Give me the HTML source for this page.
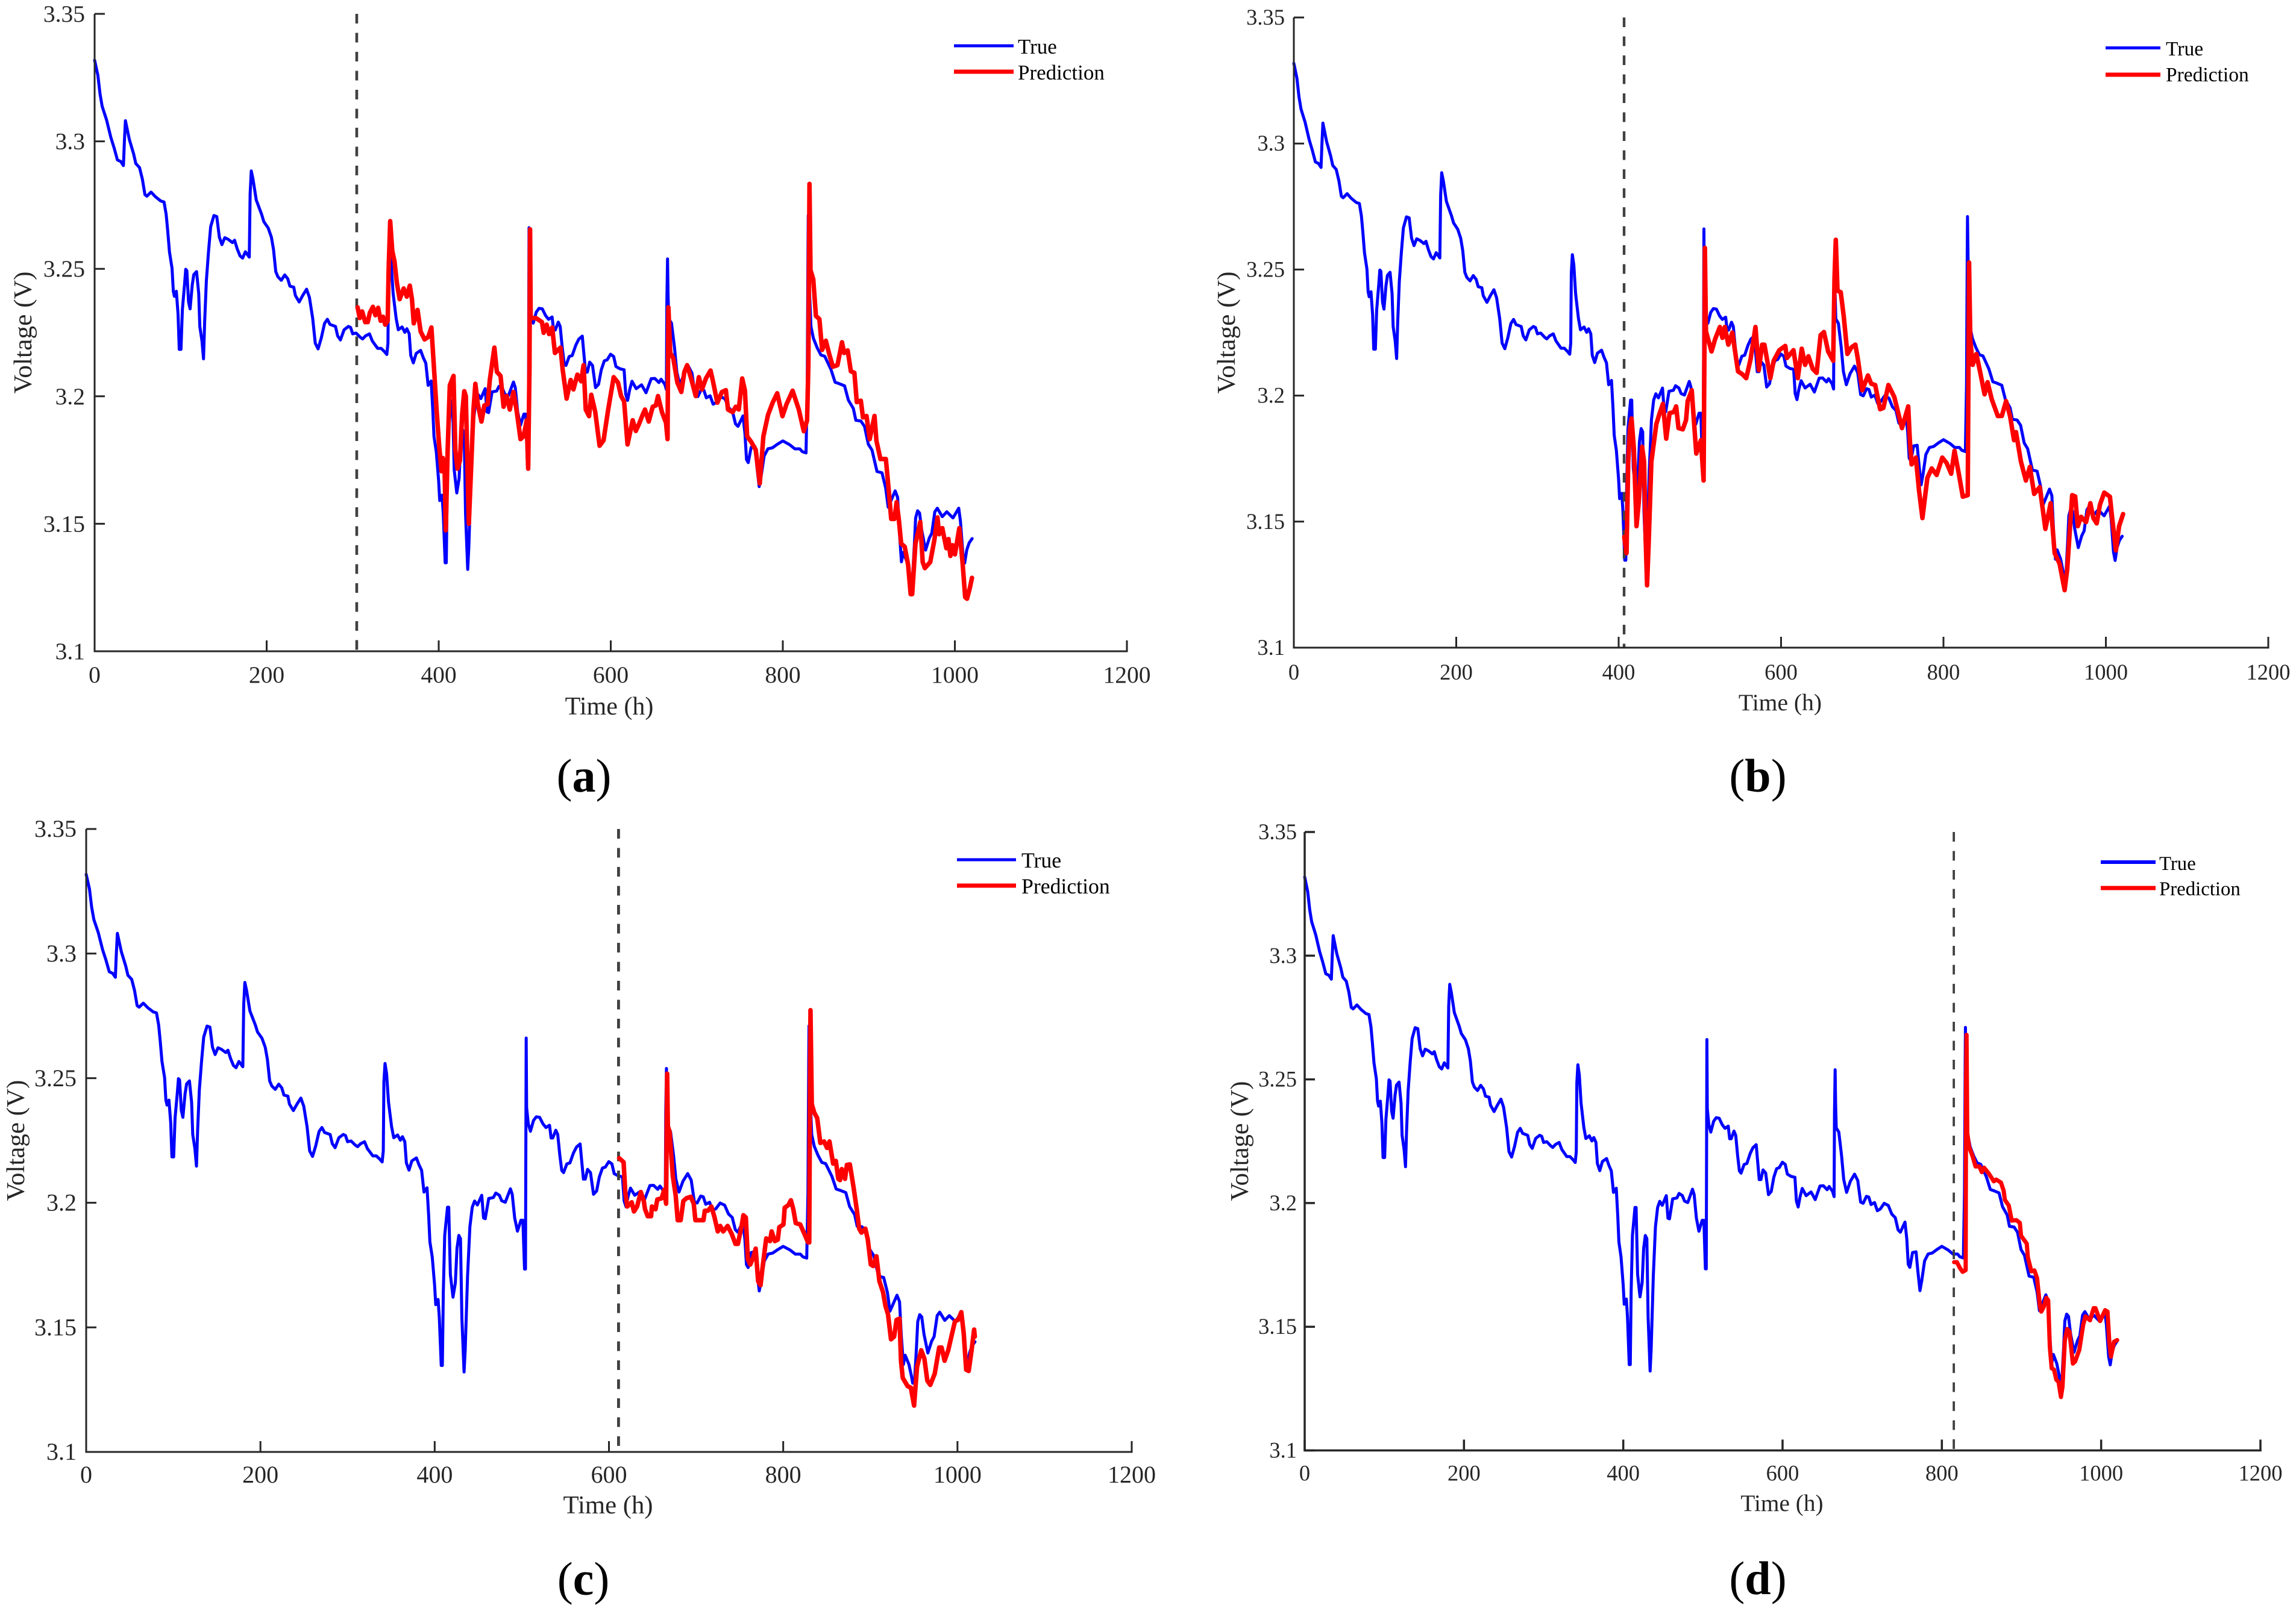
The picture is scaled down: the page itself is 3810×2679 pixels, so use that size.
<!DOCTYPE html>
<html lang="en">
<head>
<meta charset="utf-8">
<title>Voltage prediction comparison</title>
<style>
html,body{margin:0;padding:0;background:#fff;}
svg{display:block;}
text{font-family:"Liberation Serif","Times New Roman",serif;}
.ttl{fill:#262626;}
.leg{fill:#000;}
.cap{fill:#000;font-size:78px;}
.cap .l{font-weight:bold;}
</style>
</head>
<body>
<svg id="figure" xmlns="http://www.w3.org/2000/svg" width="3810" height="2679" viewBox="0 0 3810 2679">
<rect x="0" y="0" width="3810" height="2679" fill="#ffffff"/>

<g id="panel-a"></g>
<g id="panel-b"></g>
<g id="panel-c"></g>
<g id="panel-d"></g>

<g>
<text class="ttl" x="1011" y="1186" font-size="42" text-anchor="middle">Time (h)</text>
<text class="ttl" transform="translate(52,552) rotate(-90)" font-size="42" text-anchor="middle" textLength="203" lengthAdjust="spacingAndGlyphs">Voltage (V)</text>
<line x1="1583" x2="1682" y1="76" y2="76" stroke="#0000ff" stroke-width="5"/>
<line x1="1583" x2="1682" y1="119" y2="119" stroke="#ff0000" stroke-width="7"/>
<text class="leg" x="1689" y="89" font-size="35">True</text>
<text class="leg" x="1689" y="132" font-size="35">Prediction</text>
<text class="cap" x="969" y="1314" text-anchor="middle">(<tspan class="l">a</tspan>)</text>
</g>

<g>
<text class="ttl" x="2954" y="1179" font-size="39.6" text-anchor="middle">Time (h)</text>
<text class="ttl" transform="translate(2049,552) rotate(-90)" font-size="42" text-anchor="middle" textLength="203" lengthAdjust="spacingAndGlyphs">Voltage (V)</text>
<line x1="3494" x2="3585" y1="79.5" y2="79.5" stroke="#0000ff" stroke-width="5"/>
<line x1="3494" x2="3585" y1="124" y2="124" stroke="#ff0000" stroke-width="7"/>
<text class="leg" x="3594" y="92" font-size="33.5">True</text>
<text class="leg" x="3594" y="135" font-size="33.5">Prediction</text>
<text class="cap" x="2917" y="1314" text-anchor="middle">(<tspan class="l">b</tspan>)</text>
</g>

<g>
<text class="ttl" x="1009" y="2512" font-size="42.7" text-anchor="middle">Time (h)</text>
<text class="ttl" transform="translate(40,1893) rotate(-90)" font-size="42" text-anchor="middle" textLength="201" lengthAdjust="spacingAndGlyphs">Voltage (V)</text>
<line x1="1588" x2="1686" y1="1427" y2="1427" stroke="#0000ff" stroke-width="5"/>
<line x1="1588" x2="1686" y1="1470" y2="1470" stroke="#ff0000" stroke-width="7"/>
<text class="leg" x="1695" y="1440" font-size="35.7">True</text>
<text class="leg" x="1695" y="1483" font-size="35.7">Prediction</text>
<text class="cap" x="968" y="2647" text-anchor="middle">(<tspan class="l">c</tspan>)</text>
</g>

<g>
<text class="ttl" x="2957" y="2508" font-size="39.3" text-anchor="middle">Time (h)</text>
<text class="ttl" transform="translate(2071,1894) rotate(-90)" font-size="42" text-anchor="middle" textLength="199" lengthAdjust="spacingAndGlyphs">Voltage (V)</text>
<line x1="3486" x2="3577" y1="1431" y2="1431" stroke="#0000ff" stroke-width="6"/>
<line x1="3486" x2="3577" y1="1474" y2="1474" stroke="#ff0000" stroke-width="7"/>
<text class="leg" x="3583" y="1444" font-size="32.8">True</text>
<text class="leg" x="3583" y="1486" font-size="32.8">Prediction</text>
<text class="cap" x="2917" y="2646" text-anchor="middle">(<tspan class="l">d</tspan>)</text>
</g>
</svg>

<script>
const xTickValues = [0,200,400,600,800,1000,1200];
const xTickLabels = ["0","200","400","600","800","1000","1200"];
const yTickValues = [3.1,3.15,3.2,3.25,3.3,3.35];
const yTickLabels = ["3.1","3.15","3.2","3.25","3.3","3.35"];

const trueHours = [0,3.8,6.3,8.8,13.9,18.9,22.7,26.5,30.3,33.5,34.6,35.8,40.4,45.4,47.9,52.2,55.5,58.5,60.8,65.6,70.6,76.9,80.7,83.2,85,87,90,91.5,92.8,95,97,98.4,100.4,102,104.7,105.9,107.2,109.2,111,113.5,115.3,118.5,121,122.3,124.8,126.6,127.9,129.9,132.4,134.9,138.7,142,145,148,151.3,155.1,160.2,162.7,165.7,169,172,175.3,179.8,180.8,182.1,184.1,187.9,194.2,196.7,201.8,205.5,208,210.6,213,217,221,224.5,227,231.5,233.3,237.8,242,246.4,249.7,253.5,256.5,259.8,263.5,267.3,270.6,273.6,280,282.5,285.7,290,295,297.6,300,304,309,311.5,315,319.5,322.8,329,333,336.7,339.7,341,341.7,343,344.8,347,350.5,353,357.4,360.6,363,365.7,367.5,370.5,373.8,379,382,385,387.7,391.2,393.1,394.5,397.2,399.9,401.2,403.9,405.3,407.5,408.8,409.9,411.5,414.7,416.1,418,421,423.7,425.6,427.7,429.6,431.2,433.7,435,437.7,440.4,443.1,445.8,449,454,456.1,458,462,467.4,470.1,474.2,476.9,481,486.9,489,491.8,495,499,501.2,503.1,504.2,505,505.5,507.4,509.9,513.4,516.6,520.4,524.2,527.7,531.8,533.6,535.5,539,541.2,543.6,545.8,547.9,551.7,555.2,559.3,562.8,566.9,568.8,570.7,572.8,575.5,578.8,582.3,585.8,589,592.5,595.8,599.8,603.4,606,610.6,615.5,617.4,619.6,622,624.7,629.6,635.8,641,647,651.2,656,658.5,662.8,664.7,665.2,666,666.6,667.4,670.6,674.1,676.8,680.4,685,690.4,694.4,698,701.2,705.3,708.2,711.1,715.5,719,722.7,727.6,732.8,737.2,741.5,745,747.9,753.7,756,757.8,759.8,763.2,767.6,769.9,772.5,774.8,778.3,782.7,787.9,793.7,800,808,813.9,819.7,822.6,827,828.4,829.3,829.6,830.7,832.7,835.6,840,844.3,848.7,855.9,860.8,865.2,871.8,876.2,882,884.9,890.7,895,899.4,903.7,909.5,915.3,919.6,922.5,930.6,933.5,935.6,937.9,940,944.3,947.2,948.6,950.9,952.9,954.4,956.7,959,961.6,966,970.3,973.2,976.7,979.6,985.4,990.6,997.8,1004.5,1006.5,1009.4,1011.4,1013.8,1016.6,1020.1];
const trueVolts = [3.3318,3.3259,3.3186,3.3137,3.3084,3.3015,3.2974,3.2927,3.2921,3.2905,3.2998,3.3081,3.3007,3.295,3.2913,3.2897,3.2852,3.2791,3.2785,3.2801,3.2783,3.2766,3.2762,3.2713,3.2648,3.2567,3.2502,3.2412,3.2392,3.2412,3.2322,3.2184,3.2184,3.2339,3.2445,3.2498,3.2493,3.2371,3.2343,3.2437,3.2477,3.2489,3.2404,3.2274,3.2217,3.2147,3.229,3.2453,3.2567,3.2665,3.2709,3.2705,3.2624,3.2595,3.2622,3.2616,3.2603,3.2612,3.2579,3.2551,3.2542,3.2567,3.2546,3.2795,3.2884,3.2852,3.277,3.2713,3.2685,3.266,3.2624,3.2575,3.2489,3.2469,3.2455,3.2476,3.2461,3.2432,3.2428,3.2396,3.237,3.2396,3.242,3.2388,3.2306,3.2208,3.2186,3.2229,3.2286,3.2302,3.2282,3.2274,3.2237,3.2221,3.2261,3.2274,3.227,3.2245,3.2248,3.2231,3.2225,3.2237,3.2245,3.2217,3.2188,3.2188,3.2176,3.2164,3.2208,3.2485,3.2559,3.2518,3.2404,3.2306,3.2261,3.2272,3.2251,3.2265,3.2245,3.216,3.2131,3.2168,3.218,3.2152,3.213,3.2043,3.206,3.1947,3.1843,3.1782,3.1669,3.1591,3.1612,3.1539,3.1347,3.1347,3.1643,3.1869,3.1982,3.1982,3.1712,3.1621,3.1678,3.1817,3.1869,3.1856,3.1538,3.1321,3.1408,3.1704,3.1904,3.1982,3.2007,3.1991,3.203,3.1939,3.1936,3.2017,3.2021,3.2039,3.203,3.2008,3.2002,3.2056,3.2034,3.1939,3.1886,3.193,3.193,3.1734,3.1734,3.2661,3.2382,3.2317,3.2287,3.233,3.2345,3.2343,3.2317,3.2302,3.2311,3.226,3.226,3.2291,3.2274,3.2191,3.213,3.2121,3.2156,3.216,3.22,3.2224,3.2236,3.2165,3.2095,3.2095,3.2134,3.2121,3.2034,3.2047,3.2104,3.2139,3.2143,3.2165,3.2156,3.2117,3.2108,3.2104,3.2008,3.1984,3.2026,3.2059,3.203,3.2045,3.2014,3.2069,3.207,3.2054,3.2067,3.2047,3.2026,3.2365,3.2539,3.24,3.2304,3.2287,3.2191,3.2095,3.2043,3.2087,3.2117,3.2091,3.2004,3.1999,3.2027,3.2024,3.1994,3.2002,3.1969,3.1976,3.1999,3.199,3.1955,3.1941,3.1892,3.1882,3.1923,3.1854,3.1752,3.174,3.18,3.1803,3.1724,3.1646,3.1687,3.1766,3.1794,3.1798,3.1812,3.1825,3.181,3.1794,3.1794,3.1783,3.1778,3.2041,3.2582,3.271,3.2442,3.2274,3.2227,3.219,3.2162,3.2157,3.2106,3.2055,3.205,3.2041,3.1985,3.1952,3.1906,3.1903,3.1882,3.1812,3.1789,3.1705,3.17,3.164,3.1565,3.1629,3.1603,3.1463,3.1351,3.1388,3.1351,3.1304,3.1276,3.1295,3.1416,3.1523,3.1551,3.1542,3.1472,3.1397,3.1444,3.1463,3.1547,3.1561,3.1528,3.1547,3.1523,3.1561,3.151,3.1379,3.1346,3.1397,3.1425,3.1442];

const predAHours = [305.7,308.2,311,314.6,317.5,320,323.5,326.4,329.6,332.5,335.3,337.8,340.7,341.8,343.6,346,348.6,351.4,354.6,359.3,362.9,366.4,368.9,371,375.4,379,383.6,387.9,391.5,395,397.5,400.4,403.2,404.7,406.8,408.2,410.4,412.9,417.2,419.3,421.8,424.7,427.2,429.7,431.5,435,437.9,440.4,442.6,445.4,449.7,453,456.9,459.4,464.7,467.6,471.9,475.4,479,482.6,486.9,490.4,495.1,498.7,502.3,504,505.5,506.2,506.9,513,520,522,525.5,528.3,531.9,535.1,541.6,544,548.7,553.4,556.6,561.2,565.5,568.4,570.9,574.8,577.3,582,587,591.6,597,603.4,608.4,612,615.5,619.5,625.5,629.1,632.7,637,639.8,644.1,648.8,652.4,654.9,659.5,664.2,666,667,669.2,672.7,677.4,682,685.6,688.8,693.4,698.8,702.4,706,710.6,716,718.5,723.9,729.2,733.8,736.3,741.7,745.3,748.8,752.8,756,758.5,763.1,768.5,773.2,777.4,782.8,788.2,793.5,799.6,804.3,811.4,818.6,824.4,828.2,829.7,831,832.2,835.4,838.5,842.5,845.7,850,854.1,858.2,863.5,868.8,871.3,875.4,879.1,883.2,886,890.7,893.2,897.3,901,906.6,908.8,913.5,919.8,922.9,926,929.8,932.3,934.8,937.6,941.7,945.7,948.6,950.4,954.2,959.8,962.6,965.1,971.4,976.1,979.8,981.7,985.4,990.1,992.6,994.8,997.3,1000.1,1005.2,1008.9,1012,1014.2,1017.4,1019.9];
const predAVolts = [3.2349,3.2307,3.2333,3.2291,3.2291,3.2328,3.2351,3.2318,3.2347,3.2296,3.2312,3.2281,3.2296,3.2497,3.2687,3.2571,3.2529,3.2444,3.2381,3.2423,3.2391,3.2434,3.2381,3.2286,3.2339,3.2254,3.2223,3.2233,3.227,3.2085,3.1948,3.1811,3.1706,3.1758,3.1727,3.1474,3.179,3.2043,3.208,3.179,3.1716,3.1748,3.1927,3.202,3.2001,3.15,3.1737,3.1948,3.2049,3.197,3.1901,3.1964,3.1969,3.2064,3.2191,3.2096,3.208,3.1959,3.2001,3.1948,3.2017,3.1948,3.1832,3.1843,3.1906,3.1716,3.2107,3.2655,3.2307,3.2307,3.2291,3.2249,3.2281,3.2244,3.227,3.217,3.2191,3.2107,3.1991,3.2064,3.2027,3.2085,3.2059,3.2122,3.1948,3.1922,3.2006,3.1938,3.1806,3.1827,3.1948,3.2075,3.2054,3.2001,3.198,3.1811,3.1906,3.1864,3.189,3.1927,3.1948,3.1901,3.1959,3.1964,3.2001,3.1938,3.1896,3.1832,3.2349,3.217,3.2149,3.2054,3.2017,3.2096,3.2122,3.207,3.2001,3.2075,3.2027,3.207,3.2101,3.2064,3.1975,3.2017,3.2024,3.1948,3.1938,3.1959,3.1948,3.207,3.2022,3.1843,3.1822,3.179,3.1658,3.1843,3.1927,3.1975,3.2012,3.1922,3.1969,3.2022,3.1948,3.1863,3.1905,3.2122,3.2833,3.2495,3.2459,3.2315,3.2303,3.2182,3.2218,3.2164,3.2116,3.2122,3.2212,3.217,3.218,3.2098,3.2092,3.1977,3.1983,3.1917,3.1923,3.1832,3.1923,3.1826,3.1754,3.1754,3.164,3.1519,3.1519,3.1585,3.1519,3.1422,3.141,3.1338,3.1224,3.1224,3.1422,3.1507,3.135,3.1326,3.135,3.1435,3.1525,3.1459,3.1483,3.1404,3.144,3.1374,3.1416,3.138,3.1483,3.135,3.1212,3.1206,3.1248,3.1288];

const predBHours = [406.9,409.7,411.8,413.8,415.9,418.7,422,424.8,428.9,431.3,433.4,435,437,440.3,446.4,450.5,454.5,458.6,462.7,468,470.8,473.7,479,483,485,490,493.2,495.6,501.3,504.6,505.8,506.2,507.5,514.4,518.8,524.6,527.8,530.7,535.1,540,547,552.2,557.1,562.4,568.5,572.6,576.7,579.5,586.8,590.9,597.8,605.2,607.2,615.3,620.6,625.5,629.6,633.7,639,643.8,648.7,652.8,658,664.2,665.8,667.4,669.5,673.5,677.2,681.7,686.6,691.5,694.7,700,707,711,715.9,722,726,732.2,739.5,748.9,756.6,758.6,760.7,766,770,774.1,780.2,785.5,791.6,798.5,803.8,809.5,813.6,818.9,823.8,829.9,831.5,833.1,836,840.5,845.4,850.6,854.3,859.6,866.9,871.8,877.1,882,886.9,889.3,895.4,901.5,906.4,911.7,918.6,925.5,932,936.9,943,949.2,952.4,958.5,962.2,965.4,969.5,975.6,980.9,984.6,988.7,992.7,998,1005,1007.4,1012.3,1016.3,1021.2];
const predBVolts = [3.1439,3.1375,3.1738,3.1866,3.1909,3.1791,3.1482,3.1578,3.1797,3.1738,3.1418,3.1247,3.1418,3.1738,3.1887,3.193,3.1967,3.1829,3.193,3.1935,3.1957,3.1871,3.1866,3.1903,3.1978,3.2021,3.1877,3.177,3.1823,3.1663,3.2272,3.2586,3.2255,3.2175,3.2224,3.2272,3.2229,3.2272,3.2202,3.225,3.2096,3.2085,3.2069,3.2143,3.2272,3.2101,3.2202,3.2202,3.2069,3.2138,3.218,3.2197,3.2149,3.218,3.2069,3.2186,3.2122,3.2156,3.2106,3.209,3.224,3.2252,3.2175,3.2138,3.2464,3.2618,3.2416,3.241,3.2314,3.2165,3.2191,3.2202,3.2143,3.2021,3.208,3.2047,3.2042,3.1946,3.1951,3.2042,3.1994,3.1871,3.1957,3.1823,3.1727,3.1754,3.1621,3.1514,3.1674,3.1711,3.1685,3.1754,3.1733,3.169,3.1781,3.169,3.1599,3.1605,3.2528,3.2218,3.2122,3.2165,3.209,3.2005,3.2053,3.1984,3.1919,3.1919,3.1978,3.1919,3.1823,3.1855,3.1738,3.1663,3.1717,3.161,3.1637,3.1471,3.1573,3.1375,3.1333,3.1228,3.1311,3.1605,3.16,3.1482,3.1519,3.1498,3.1573,3.1514,3.1493,3.1567,3.1615,3.1599,3.1525,3.1386,3.1482,3.153];

const predCHours = [611.7,616.8,618.8,621,626.1,628.7,632.3,636.6,640,641.4,644.5,648.4,649.3,653.5,655.5,660.5,663.4,665.6,666.8,667.6,669.6,673.3,676.6,678.9,682.3,685.4,688.8,693.9,697.3,699.2,708.5,710,713.6,717.6,721.2,724.9,727.7,731.1,736.2,741,745.2,748,752.3,754.3,757.1,759.4,762.2,765.6,768.4,771.2,774,776.3,780.5,784.8,786.7,790.4,793.8,795.5,800.3,801.7,806,808.8,811.6,814.4,819.5,823.7,828.5,829.9,830.8,831.3,832.8,835.6,839,842.6,846.9,850.3,853.1,857.3,860.4,863.2,865.2,867.2,870.9,873.1,876.5,880.7,884.4,887.2,889.8,894.3,897.1,900.5,903.3,907,910.4,914.6,917.4,920.3,923.7,927.3,930.1,933.5,935.2,937.2,942.8,946.5,950.2,953.6,958.4,962,965.4,968.8,973.9,979,981.8,985.2,989.4,992.3,997.1,1000.7,1004.4,1007.2,1010,1012.9,1016.2,1019.1,1019.9];
const predCVolts = [3.2179,3.2163,3.2041,3.1985,3.2002,3.1965,3.1985,3.2043,3.2007,3.1974,3.1946,3.1946,3.1985,3.1974,3.2013,3.2018,3.2052,3.1996,3.2518,3.2307,3.2285,3.2107,3.2029,3.193,3.193,3.2007,3.2018,3.2024,3.1996,3.193,3.193,3.1968,3.1968,3.1985,3.1941,3.1885,3.1907,3.1885,3.1907,3.1874,3.1835,3.1835,3.1907,3.195,3.1941,3.1774,3.1752,3.178,3.1816,3.1685,3.1669,3.1741,3.1857,3.1846,3.1885,3.1846,3.1852,3.1902,3.1913,3.198,3.1991,3.201,3.1974,3.1918,3.1913,3.188,3.1841,3.1841,3.2529,3.2773,3.2396,3.2362,3.234,3.224,3.2246,3.222,3.2246,3.2157,3.2168,3.2096,3.2091,3.2135,3.2096,3.2152,3.2154,3.2063,3.1974,3.1896,3.188,3.1896,3.1852,3.1752,3.1746,3.1785,3.1685,3.1641,3.1585,3.1552,3.1452,3.1463,3.153,3.1535,3.1364,3.1297,3.1264,3.1258,3.1186,3.1341,3.1408,3.1375,3.1286,3.1269,3.1314,3.1419,3.1419,3.1366,3.1408,3.1452,3.1524,3.153,3.1561,3.1475,3.133,3.1325,3.1408,3.1491,3.1463];

const predDHours = [815.4,818.9,822.6,826.1,829.9,830.4,831,831.9,834.2,838.5,842.3,847.2,850.1,853,858.8,865.2,868.1,874.2,877.6,879.1,884,887.8,893.6,897.9,899.4,906.6,908,912.4,916.2,919.6,923.1,924.8,927.7,931.2,933.5,935.6,937.9,940.8,943.7,946.6,949.5,951.5,954.4,957.3,960.2,964.5,967.4,972.6,977.5,980.4,986,990.6,992.9,998.7,1005,1008,1010.3,1012.3,1016.1,1020.1];
const predDVolts = [3.1761,3.1761,3.1738,3.1722,3.1729,3.2488,3.268,3.2283,3.2227,3.219,3.2148,3.2148,3.2125,3.2143,3.212,3.2088,3.2095,3.2083,3.205,3.2013,3.199,3.1929,3.1931,3.192,3.1868,3.1836,3.178,3.1724,3.1728,3.1696,3.1584,3.1561,3.1579,3.1617,3.1607,3.1416,3.1332,3.1327,3.1286,3.1276,3.1216,3.1258,3.1444,3.1491,3.1481,3.1351,3.136,3.1407,3.1509,3.1542,3.1526,3.1575,3.1575,3.1523,3.1567,3.1561,3.1435,3.1379,3.1439,3.1446];

const splitHourA = 304.7;
const splitHourB = 406.7;
const splitHourC = 611;
const splitHourD = 815;

const SVG_NS = "http://www.w3.org/2000/svg";
const xDomain = [0, 1200];
const yDomain = [3.1, 3.35];

const panels = [
  {id:"a", left:157,  right:1870, top:23,   bottom:1081,   tickFont:39.5, labelGap:16, xLabelGap:52, axisW:3,   red:7.5, blue:5, dashW:4.6, hours:predAHours, volts:predAVolts, split:splitHourA},
  {id:"b", left:2147, right:3764, top:29,   bottom:1075,   tickFont:36.5, labelGap:15, xLabelGap:53, axisW:3,   red:7.5, blue:5, dashW:4.4, hours:predBHours, volts:predBVolts, split:splitHourB},
  {id:"c", left:143,  right:1878, top:1376, bottom:2410,   tickFont:40,   labelGap:16, xLabelGap:51, axisW:3,   red:7.5, blue:5, dashW:4.8, hours:predCHours, volts:predCVolts, split:splitHourC},
  {id:"d", left:2165, right:3751, top:1381, bottom:2407.5, tickFont:36.5, labelGap:13, xLabelGap:50, axisW:3.5, red:7,   blue:5, dashW:3.8, hours:predDHours, volts:predDVolts, split:splitHourD}
];

function xScale(p, h) {
  return p.left + (h - xDomain[0]) / (xDomain[1] - xDomain[0]) * (p.right - p.left);
}
function yScale(p, v) {
  return p.bottom - (v - yDomain[0]) / (yDomain[1] - yDomain[0]) * (p.bottom - p.top);
}
function make(tag, attrs, parent) {
  const el = document.createElementNS(SVG_NS, tag);
  for (const k in attrs) el.setAttribute(k, attrs[k]);
  parent.appendChild(el);
  return el;
}
function seriesPath(p, hs, vs) {
  return hs.map((h, i) => (i ? "L" : "M") + xScale(p, h).toFixed(2) + " " + yScale(p, vs[i]).toFixed(2)).join("");
}

panels.forEach(p => {
  const g = document.getElementById("panel-" + p.id);

  const trueLine = make("path", {d: seriesPath(p, trueHours, trueVolts), fill: "none", stroke: "#0000ff", "stroke-width": p.blue, "stroke-linejoin": "round", "stroke-linecap": "round"}, g);
  
  

  const splitLine = make("line", {x1: xScale(p, p.split), x2: xScale(p, p.split), y1: p.top, y2: p.bottom, stroke: "#404040", "stroke-width": p.dashW, "stroke-dasharray": "16 15.5"}, g);
  
  

  const predLine = make("path", {d: seriesPath(p, p.hours, p.volts), fill: "none", stroke: "#ff0000", "stroke-width": p.red, "stroke-linejoin": "round", "stroke-linecap": "round"}, g);
  
  

  const xAxis = make("line", {x1: p.left - p.axisW / 2, x2: p.right + p.axisW / 2, y1: p.bottom, y2: p.bottom, stroke: "#262626", "stroke-width": p.axisW}, g);
  
  

  const yAxis = make("line", {x1: p.left, x2: p.left, y1: p.top, y2: p.bottom, stroke: "#262626", "stroke-width": p.axisW}, g);
  
  

  xTickValues.forEach((t, i) => {
    const x = xScale(p, t);
    const tick = make("line", {x1: x, x2: x, y1: p.bottom, y2: p.bottom - 18, stroke: "#262626", "stroke-width": p.axisW}, g);
    
    
    const label = make("text", {x: x, y: p.bottom + p.xLabelGap, "font-size": p.tickFont, "text-anchor": "middle", fill: "#262626"}, g);
    
    
    label.textContent = xTickLabels[i];
  });

  yTickValues.forEach((t, i) => {
    const y = yScale(p, t);
    const tick = make("line", {x1: p.left, x2: p.left + 17, y1: y, y2: y, stroke: "#262626", "stroke-width": p.axisW}, g);
    
    
    const label = make("text", {x: p.left - p.labelGap, y: y + p.tickFont * 0.33, "font-size": p.tickFont, "text-anchor": "end", fill: "#262626"}, g);
    
    
    label.textContent = yTickLabels[i];
  });
});
</script>
</body>
</html>
